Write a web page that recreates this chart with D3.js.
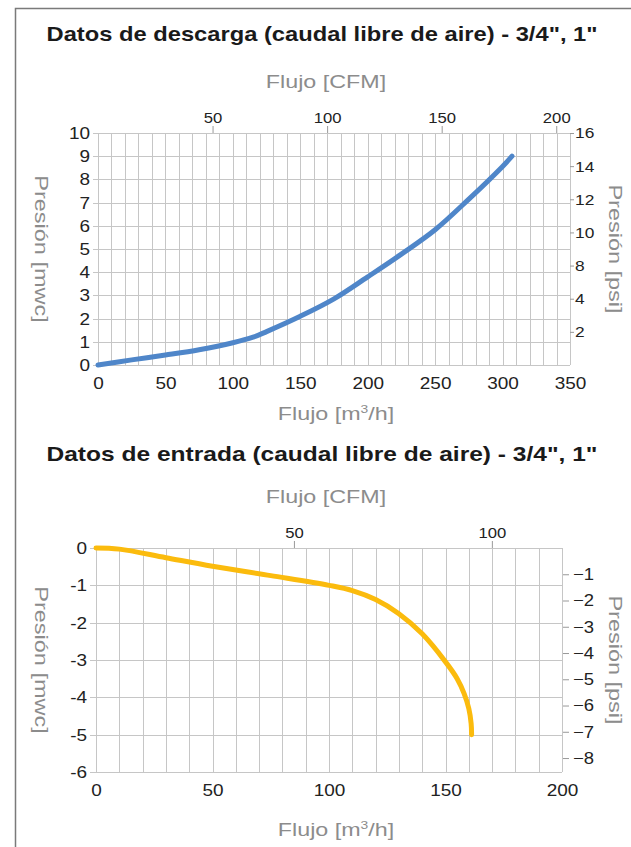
<!DOCTYPE html>
<html>
<head>
<meta charset="utf-8">
<script src="https://cdn.jsdelivr.net/npm/d3@7"></script>
<style>
  body { margin: 0; background: #fff; }
  svg { display: block; font-family: "Liberation Sans", Arial, sans-serif; }
</style>
</head>
<body>
<div id="chart"></div>
<script>
(function(){

  // discharge curve: flow [m3/h] vs pressure [mwc]
  var dischargeFlow = [0, 25, 50, 75, 100, 115, 125, 150, 175, 200, 225, 250, 275, 300, 307];
  var dischargePress = [0, 0.22, 0.43, 0.66, 0.96, 1.2, 1.44, 2.1, 2.85, 3.8, 4.78, 5.83, 7.15, 8.56, 9.0];

  // suction curve
  var suctionFlow = [0, 10, 30, 50, 75, 100, 110, 120, 130, 140, 150, 155, 158, 160, 161, 161.2];
  var suctionPress = [0, -0.03, -0.26, -0.49, -0.74, -1.0, -1.14, -1.38, -1.76, -2.3, -3.05, -3.5, -3.9, -4.3, -4.7, -5.0];

  var topXTicks = [0, 50, 100, 150, 200, 250, 300, 350];
  var topYTicks = [0, 1, 2, 3, 4, 5, 6, 7, 8, 9, 10];
  var topCfmTicks = [50, 100, 150, 200];
  var topPsiLabels = ["2", "4", "8", "10", "12", "14", "16"];

  var botXTicks = [0, 50, 100, 150, 200];
  var botYTicks = [0, -1, -2, -3, -4, -5, -6];
  var botCfmTicks = [50, 100];
  var botPsiTicks = [-1, -2, -3, -4, -5, -6, -7, -8];

  var CFM = 1.699;   // m3/h per CFM
  var PSI = 1.422;   // psi per mwc

  var W = 631, H = 847;
  var svg = d3.select("#chart").append("svg").attr("width", W).attr("height", H);

  // frame
  svg.append("path")
    .attr("d", "M15.5," + H + "V8.5H" + W)
    .attr("fill", "none").attr("stroke", "#7a7a7a").attr("stroke-width", 1.5);

  var grid = "#c6c6c6", dark = "#222", soft = "#8c8c8c";

  // the source lettering is wider than Arial: stretch along the baseline
  function stretch(sel, k){
    sel.each(function(){
      var t = d3.select(this);
      var x = +(t.attr("x") || 0);
      t.attr("x", x / k);
      var tr = t.attr("transform") || "";
      t.attr("transform", tr + " scale(" + k + ",1)");
    });
  }

  function drawChart(o){
    var g = svg.append("g");
    var x = d3.scaleLinear().domain(o.xDomain).range([o.left, o.right]);
    var y = d3.scaleLinear().domain(o.yDomain).range([o.bottom, o.top]);

    g.append("text").attr("x", 322).attr("y", o.titleY)
      .attr("text-anchor", "middle").attr("font-size", 21).attr("font-weight", "bold")
      .attr("textLength", 551).attr("lengthAdjust", "spacingAndGlyphs")
      .attr("fill", "#1a1a1a").text(o.title);

    // grid
    g.append("g").selectAll("line").data(d3.range(o.xDomain[0], o.xDomain[1] + 1, 10)).join("line")
      .attr("x1", function(d){ return Math.round(x(d)) + 0.5; }).attr("x2", function(d){ return Math.round(x(d)) + 0.5; })
      .attr("y1", o.top).attr("y2", o.bottom).attr("stroke", grid);
    g.append("g").selectAll("line").data(o.yTicks).join("line")
      .attr("x1", o.left - o.yTickLen).attr("x2", o.right)
      .attr("y1", function(d){ return Math.round(y(d)) + 0.5; })
      .attr("y2", function(d){ return Math.round(y(d)) + 0.5; }).attr("stroke", grid);

    // left axis labels
    var yl = g.append("g").selectAll("text").data(o.yTicks).join("text")
      .attr("x", o.left - o.yTickLen - 3).attr("y", function(d){ return y(d); })
      .attr("dy", "0.36em").attr("text-anchor", "end").attr("font-size", 16.5).attr("fill", dark)
      .text(function(d){ return d; });
    stretch(yl, 1.15);

    // bottom axis
    var xb = g.append("g").attr("transform", "translate(0," + o.bottom + ")")
      .call(d3.axisBottom(x).tickValues(o.xTicks).tickSize(0).tickPadding(12));
    xb.select(".domain").remove();
    xb.selectAll("text").attr("font-size", 16.5).attr("fill", dark).attr("font-family", null);
    stretch(xb.selectAll("text"), 1.15);

    // top CFM axis
    var xc = d3.scaleLinear().domain([o.xDomain[0] / CFM, o.xDomain[1] / CFM]).range([o.left, o.right]);
    var xt = g.append("g").attr("transform", "translate(0," + o.top + ")")
      .call(d3.axisTop(xc).tickValues(o.cfmTicks).tickSize(7).tickPadding(3));
    xt.select(".domain").remove();
    xt.selectAll("line").attr("stroke", "#999");
    xt.selectAll("text").attr("font-size", 14.5).attr("fill", dark).attr("font-family", null);
    stretch(xt.selectAll("text"), 1.15);

    // right psi axis
    var ya = o.psiAxis(g);
    ya.select(".domain").remove();
    ya.selectAll("line").attr("stroke", "#999");
    ya.selectAll("text").attr("font-size", o.psiFont).attr("fill", dark).attr("font-family", null);
    stretch(ya.selectAll("text"), 1.12);

    // axis titles
    var ct = g.append("text").attr("x", 326).attr("y", o.cfmTitleY).attr("text-anchor", "middle")
      .attr("font-size", 18.5).attr("fill", soft).text("Flujo [CFM]");
    stretch(ct, 1.26);
    var m3 = g.append("text").attr("x", 336).attr("y", o.m3TitleY).attr("text-anchor", "middle")
      .attr("font-size", 18.5).attr("fill", soft);
    m3.append("tspan").text("Flujo [m");
    m3.append("tspan").attr("font-size", 11).attr("dy", -7).text("3");
    m3.append("tspan").attr("dy", 7).text("/h]");
    stretch(m3, 1.26);

    var cy = (o.top + o.bottom) / 2;
    var lt = g.append("text").attr("transform", "translate(35," + cy + ") rotate(90)")
      .attr("text-anchor", "middle").attr("font-size", 18.5).attr("fill", soft).text("Presión [mwc]");
    var rt = g.append("text").attr("transform", "translate(609," + cy + ") rotate(90)")
      .attr("text-anchor", "middle").attr("font-size", 18.5).attr("fill", soft).text("Presión [psi]");
    stretch(lt, 1.27);
    stretch(rt, 1.27);

    // curve
    var line = d3.line()
      .x(function(d){ return x(d[0]); }).y(function(d){ return y(d[1]); })
      .curve(d3.curveCatmullRom.alpha(0.5));
    g.append("path").datum(d3.zip(o.flow, o.press))
      .attr("d", line).attr("fill", "none").attr("stroke", o.color)
      .attr("stroke-width", 5).attr("stroke-linecap", "round").attr("stroke-linejoin", "round");
  }

  drawChart({
    title: "Datos de descarga (caudal libre de aire) - 3/4\", 1\"",
    titleY: 41, cfmTitleY: 88, m3TitleY: 420,
    left: 98, right: 570, top: 133, bottom: 365,
    xDomain: [0, 350], yDomain: [0, 10],
    xTicks: topXTicks, yTicks: topYTicks, cfmTicks: topCfmTicks, yTickLen: 5,
    flow: dischargeFlow, press: dischargePress, color: "#4f86c9", psiFont: 15.5,
    psiAxis: function(g){
      // right scale printed with evenly spaced labels as in the original
      var yp = d3.scalePoint().domain([""].concat(topPsiLabels)).range([365, 133]);
      return g.append("g").attr("transform", "translate(570,0)")
        .call(d3.axisRight(yp).tickValues(topPsiLabels).tickSize(4).tickPadding(1));
    }
  });

  drawChart({
    title: "Datos de entrada (caudal libre de aire) - 3/4\", 1\"",
    titleY: 461, cfmTitleY: 503, m3TitleY: 836,
    left: 96, right: 562, top: 548, bottom: 772,
    xDomain: [0, 200], yDomain: [-6, 0],
    xTicks: botXTicks, yTicks: botYTicks, cfmTicks: botCfmTicks, yTickLen: 6,
    flow: suctionFlow, press: suctionPress, color: "#fbbb0d", psiFont: 16.5,
    psiAxis: function(g){
      var yp = d3.scaleLinear().domain([-6 * PSI, 0]).range([772, 548]);
      return g.append("g").attr("transform", "translate(563,0)")
        .call(d3.axisRight(yp).tickValues(botPsiTicks).tickSize(6).tickPadding(4));
    }
  });

})();
</script>
</body>
</html>
